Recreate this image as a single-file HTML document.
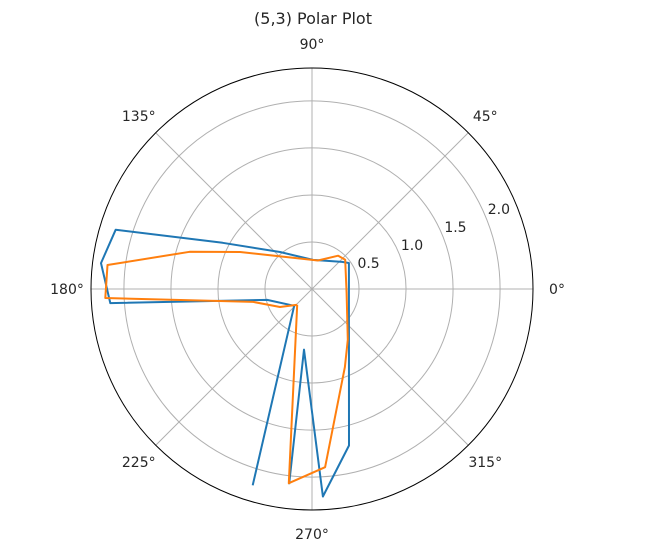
<!DOCTYPE html>
<html><head><meta charset="utf-8"><style>
body{margin:0;background:#fff;}
svg text{font-family:"DejaVu Sans","Liberation Sans",sans-serif;font-size:14px;fill:#262626;}
</style></head><body>
<svg id="chart" width="651" height="546" viewBox="0 0 651 546" xmlns="http://www.w3.org/2000/svg">
<text x="313" y="24" text-anchor="middle" style="font-size:16px">(5,3) Polar Plot</text>
<g id="grid"></g>
<g id="series"></g>
<g id="labels"></g>
</svg>
<script>
const rTicks=[0.5,1.0,1.5,2.0];
const rTickLabels=["0.5","1.0","1.5","2.0"];
const thetaTicks=[0,45,90,135,180,225,270,315];
const thetaTickLabels=["0°","45°","90°","135°","180°","225°","270°","315°"];
const rMax=2.35;
const blueTheta=[253.2,223.4,193.7,184.0,173.0,163.2,152.7,130.9,88,42,35.1,283.3,273.0,262.5,263.3];
const blueR=[2.18,0.26,0.49,2.15,2.26,2.18,1.07,0.52,0.31,0.43,0.48,1.71,2.21,0.65,2.09];
const orangeTheta=[226.8,209.4,192.4,182.5,173.3,163.1,152.8,121.5,78.3,51.8,41.3,353.5,305.2,292.9,274.2,263.2,226.8];
const orangeR=[0.23,0.39,0.64,2.20,2.19,1.36,0.86,0.39,0.31,0.45,0.47,0.37,0.66,0.90,1.90,2.08,0.23];

const NS="http://www.w3.org/2000/svg";
const cx=312,cy=289,R=221;
function rad(r){return r/rMax*R;}
function px(t,r){const a=t*Math.PI/180;return [cx+rad(r)*Math.cos(a),cy-rad(r)*Math.sin(a)];}
function mk(tag,attrs,parent){const e=document.createElementNS(NS,tag);for(const k in attrs)e.setAttribute(k,attrs[k]);parent.appendChild(e);return e;}
const grid=document.getElementById('grid'),series=document.getElementById('series'),labels=document.getElementById('labels');
rTicks.forEach((r,i)=>{
  const c=mk('circle',{cx:cx,cy:cy,r:rad(r),fill:'none',stroke:'#b0b0b0','stroke-width':1},grid);
  
  
  const p=px(22.5,r);
  const t=mk('text',{x:p[0]+2,y:p[1]-3},labels);
  t.textContent=rTickLabels[i];
  
  
});
thetaTicks.forEach((th,i)=>{
  const p=px(th,rMax);
  const l=mk('line',{x1:cx,y1:cy,x2:p[0],y2:p[1],stroke:'#b0b0b0','stroke-width':1},grid);
  
  
  const a=th*Math.PI/180;
  const t=mk('text',{x:cx+(R+24)*Math.cos(a),y:cy-(R+24)*Math.sin(a)+5,'text-anchor':'middle'},labels);
  t.textContent=thetaTickLabels[i];
  
  
});
const outer=mk('circle',{cx:cx,cy:cy,r:R,fill:'none',stroke:'#000','stroke-width':1},grid);


function line(T,Rr,color,name){
  const pts=T.map((t,i)=>px(t,Rr[i]).map(v=>v.toFixed(1)).join(',')).join(' ');
  const pl=mk('polyline',{points:pts,fill:'none',stroke:color,'stroke-width':2,'stroke-linejoin':'round'},series);
  
  
}
line(blueTheta,blueR,'#1f77b4','series-blue-line');
line(orangeTheta,orangeR,'#ff7f0e','series-orange-line');
</script>
</body></html>
